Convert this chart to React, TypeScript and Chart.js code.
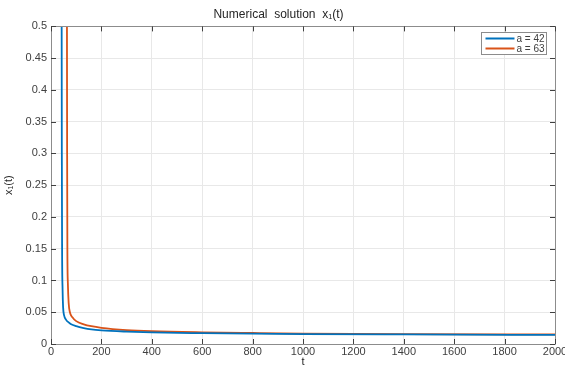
import React, { useEffect, useRef } from "react";
import { Chart, registerables } from "chart.js";

Chart.register(...registerables);

const seriesLabels = ["a = 42", "a = 63"];
const seriesColors = ["#0072BD", "#D95319"];

const tBlue = [42, 43, 44, 46, 48, 52, 60, 70, 80, 100, 130, 160, 200, 300, 400, 600, 800, 1000, 1400, 2000];
const xBlue = [0.6, 0.3, 0.15, 0.085, 0.058, 0.045, 0.038, 0.034, 0.031, 0.028, 0.025, 0.023, 0.0215, 0.0195, 0.0182, 0.017, 0.0162, 0.0156, 0.015, 0.0143];

const tOrange = [63, 64, 65, 67, 70, 75, 85, 100, 130, 160, 200, 300, 400, 600, 800, 1000, 1400, 2000];
const xOrange = [0.6, 0.3, 0.15, 0.095, 0.065, 0.05, 0.042, 0.036, 0.031, 0.028, 0.0255, 0.022, 0.0202, 0.0184, 0.0173, 0.0164, 0.0156, 0.0151];

const xTickStep = 200;
const yTickStep = 0.05;

const FONT = "Arial, 'Liberation Sans', Helvetica, sans-serif";
const TEXT = "#404040";

const boxPlugin = {
  id: "matlabBox",
  afterDraw(chart: any) {
    const { ctx, chartArea: a, scales } = chart;
    const xs = scales.x, ys = scales.y;
    ctx.save();
    ctx.strokeStyle = "#8c8c8c";
    ctx.lineWidth = 1;
    ctx.beginPath();
    ctx.rect(Math.round(a.left) + 0.5, Math.round(a.top) + 0.5, Math.round(a.right - a.left), Math.round(a.bottom - a.top));
    ctx.stroke();
    const tl = 5;
    ctx.strokeStyle = "#404040";
    ctx.beginPath();
    xs.ticks.forEach((t: any) => {
      const px = Math.round(xs.getPixelForValue(t.value)) + 0.5;
      ctx.moveTo(px, a.bottom); ctx.lineTo(px, a.bottom - tl);
      ctx.moveTo(px, a.top); ctx.lineTo(px, a.top + tl);
    });
    ys.ticks.forEach((t: any) => {
      const py = Math.round(ys.getPixelForValue(t.value)) + 0.5;
      ctx.moveTo(a.left, py); ctx.lineTo(a.left + tl, py);
      ctx.moveTo(a.right, py); ctx.lineTo(a.right - tl, py);
    });
    ctx.stroke();

    // legend
    const w = 65, h = 22;
    const lx = Math.round(a.right - 9 - w) + 0.5, ly = Math.round(a.top + 6) + 0.5;
    ctx.fillStyle = "#ffffff";
    ctx.fillRect(lx, ly, w, h);
    ctx.strokeStyle = "#8c8c8c";
    ctx.lineWidth = 1;
    ctx.strokeRect(lx, ly, w, h);
    ctx.font = `10px ${FONT}`;
    ctx.textBaseline = "middle";
    chart.data.datasets.forEach((ds: any, i: number) => {
      const yy = ly + 6 + i * 10;
      ctx.strokeStyle = ds.borderColor;
      ctx.lineWidth = 2;
      ctx.beginPath();
      ctx.moveTo(lx + 4, yy); ctx.lineTo(lx + 33, yy);
      ctx.stroke();
      ctx.fillStyle = TEXT;
      ctx.fillText(ds.label, lx + 35, yy + 0.5);
    });
    ctx.restore();
  },
};

export default function App() {
  const ref = useRef<HTMLCanvasElement>(null);
  useEffect(() => {
    document.body.style.margin = "0";
    const datasets = [
      { label: seriesLabels[0], data: tBlue.map((t, i) => ({ x: t, y: xBlue[i] })), borderColor: seriesColors[0] },
      { label: seriesLabels[1], data: tOrange.map((t, i) => ({ x: t, y: xOrange[i] })), borderColor: seriesColors[1] },
    ].map((d) => ({ ...d, borderWidth: 1.8, pointRadius: 0, cubicInterpolationMode: "monotone" as const, fill: false }));
    const chart = new Chart(ref.current!, {
      type: "line",
      data: { datasets },
      options: {
        animation: false,
        responsive: false,
        layout: { padding: { left: 2, right: 10, top: 0, bottom: 0 } },
        plugins: {
          legend: { display: false },
          tooltip: { enabled: false },
          title: {
            display: true,
            text: "Numerical  solution  x₁(t)",
            color: "#262626",
            font: { family: FONT, size: 12, weight: "normal" },
            padding: { top: 7, bottom: 5 },
          },
        },
        scales: {
          x: {
            type: "linear",
            min: 0,
            max: 2000,
            ticks: {
              stepSize: xTickStep,
              color: TEXT,
              font: { family: FONT, size: 11 },
              padding: 1,
              maxRotation: 0,
              callback: (v: any) => String(v),
            },
            grid: { color: "#e8e8e8", drawTicks: false },
            border: { display: false },
            title: { display: true, text: "t", color: "#262626", font: { family: FONT, size: 11 }, padding: 0 },
            afterFit: (s: any) => { s.height = 25; s.paddingRight = 0; s.paddingLeft = 0; },
          },
          y: {
            type: "linear",
            min: 0,
            max: 0.5,
            ticks: {
              stepSize: yTickStep,
              color: TEXT,
              font: { family: FONT, size: 11 },
              padding: 4,
              callback: (v: any) => String(Number(Number(v).toFixed(2))),
            },
            grid: { color: "#e8e8e8", drawTicks: false },
            border: { display: false },
            title: { display: true, text: "x₁(t)", color: "#262626", font: { family: FONT, size: 11 }, padding: 0 },
            afterFit: (s: any) => { s.width = 49; },
          },
        },
      },
      plugins: [boxPlugin],
    });
    return () => chart.destroy();
  }, []);
  return <canvas ref={ref} width={565} height={369} style={{ display: "block" }} />;
}
